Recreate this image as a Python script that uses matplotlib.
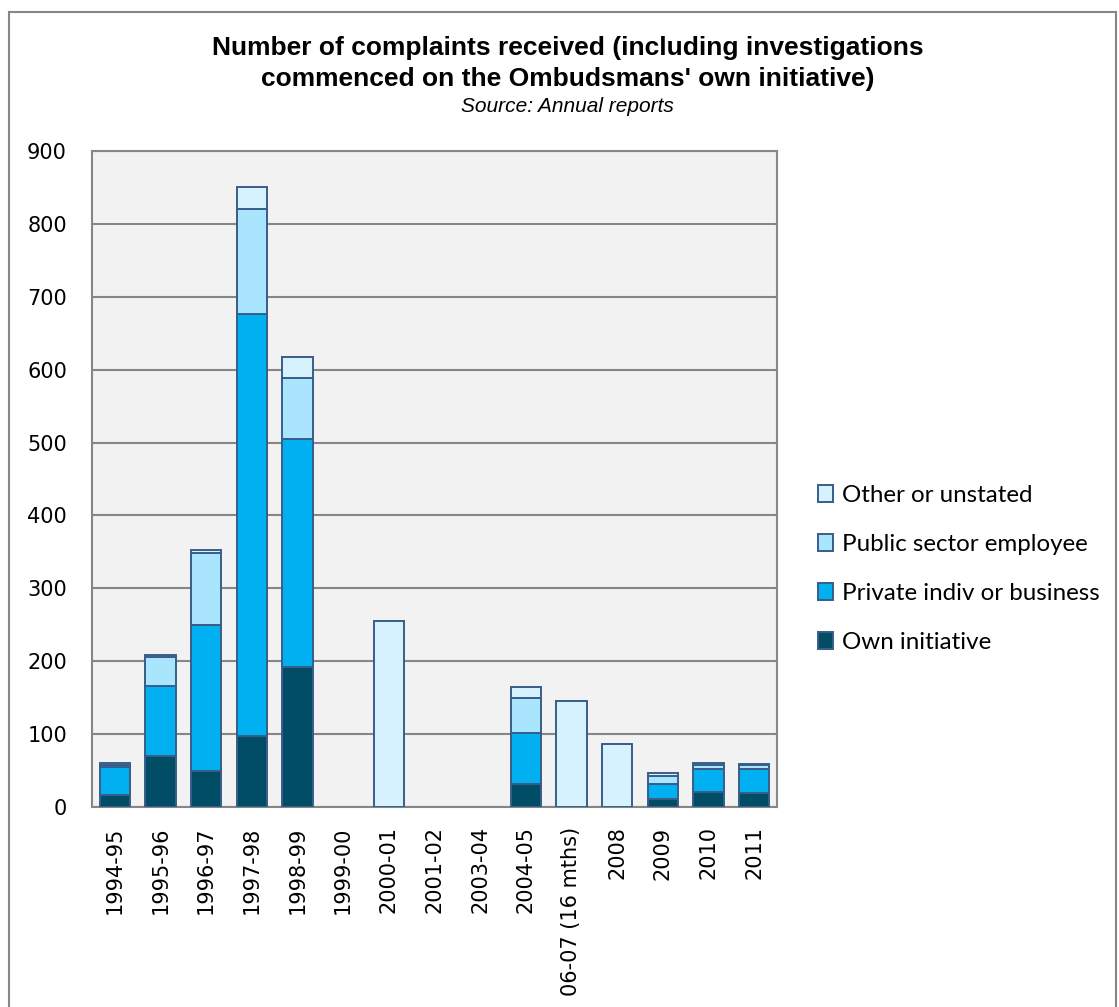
import matplotlib
matplotlib.use("Agg")
import matplotlib.pyplot as plt
import matplotlib.patches as mpatches
import numpy as np

categories = ["1994-95", "1995-96", "1996-97", "1997-98", "1998-99", "1999-00",
              "2000-01", "2001-02", "2003-04", "2004-05", "06-07 (16 mths)",
              "2008", "2009", "2010", "2011"]
own_initiative = [16, 70, 50, 97, 192, 0, 0, 0, 0, 32, 0, 0, 11, 21, 19]
private_indiv = [39, 96, 200, 579, 313, 0, 0, 0, 0, 70, 0, 0, 20, 31, 33]
public_sector = [3, 40, 98, 144, 83, 0, 0, 0, 0, 48, 0, 0, 12, 5, 5]
other_unstated = [3, 2, 4, 30, 29, 0, 255, 0, 0, 15, 145, 86, 3, 4, 2]

series = [
    ("Own initiative", own_initiative, "#014D66"),
    ("Private indiv or business", private_indiv, "#00B0F0"),
    ("Public sector employee", public_sector, "#A9E6FD"),
    ("Other or unstated", other_unstated, "#D6F2FE"),
]

W, H = 1119, 1007
fig = plt.figure(figsize=(W / 100, H / 100), dpi=100)
fig.patch.set_facecolor("white")

# outer chart border
fig.patches.append(mpatches.Rectangle((9 / W, -0.01), (1116 - 9) / W, 1 - 12 / H + 0.01,
                                      transform=fig.transFigure, fill=False,
                                      edgecolor="#868686", linewidth=1.5))

ax = fig.add_axes([92 / W, (H - 807) / H, (777 - 92) / W, (807 - 151) / H])
ax.set_facecolor("#F2F2F2")

x = np.arange(len(categories))
bottom = np.zeros(len(categories))
handles = []
for name, vals, col in series:
    v = np.array(vals, dtype=float)
    nz = v > 0
    b = ax.bar(x[nz], v[nz], width=0.66, bottom=bottom[nz], color=col,
               edgecolor="#385D8A", linewidth=1.4, label=name, zorder=3)
    handles.append(b)
    bottom += v

ax.set_xlim(-0.5, len(categories) - 0.5)
ax.set_ylim(0, 900)
ax.set_yticks(np.arange(0, 901, 100))
ax.grid(axis="y", color="#868686", linewidth=1.5, zorder=1)
ax.set_axisbelow(True)
for s in ax.spines.values():
    s.set_color("#868686")
    s.set_linewidth(1.5)
ax.set_xticks(x)
ax.set_xticklabels(categories, rotation=90, fontsize=15, family="DejaVu Sans")
ax.tick_params(axis="x", length=0, pad=14)
ax.tick_params(axis="y", length=0, pad=18, labelsize=15)
for lab in ax.get_yticklabels():
    lab.set_family("DejaVu Sans")

fig.text(0.507, 1 - 48 / H, "Number of complaints received (including investigations",
         ha="center", va="center", fontsize=19, fontweight="bold", family="Liberation Sans")
fig.text(0.507, 1 - 79 / H, "commenced on the Ombudsmans' own initiative)",
         ha="center", va="center", fontsize=19, fontweight="bold", family="Liberation Sans")
fig.text(0.507, 1 - 106 / H, "Source: Annual reports",
         ha="center", va="center", fontsize=15, style="italic", family="Liberation Sans")

leg = fig.legend(handles[::-1], [s[0] for s in series][::-1], loc="center left",
                 bbox_to_anchor=(796 / W, 1 - 569 / H), frameon=False,
                 prop={"family": "Lato", "size": 17.4}, handlelength=0.65,
                 handleheight=0.65, handletextpad=0.35, labelspacing=1.16)

fig.savefig("out.png", dpi=100)
